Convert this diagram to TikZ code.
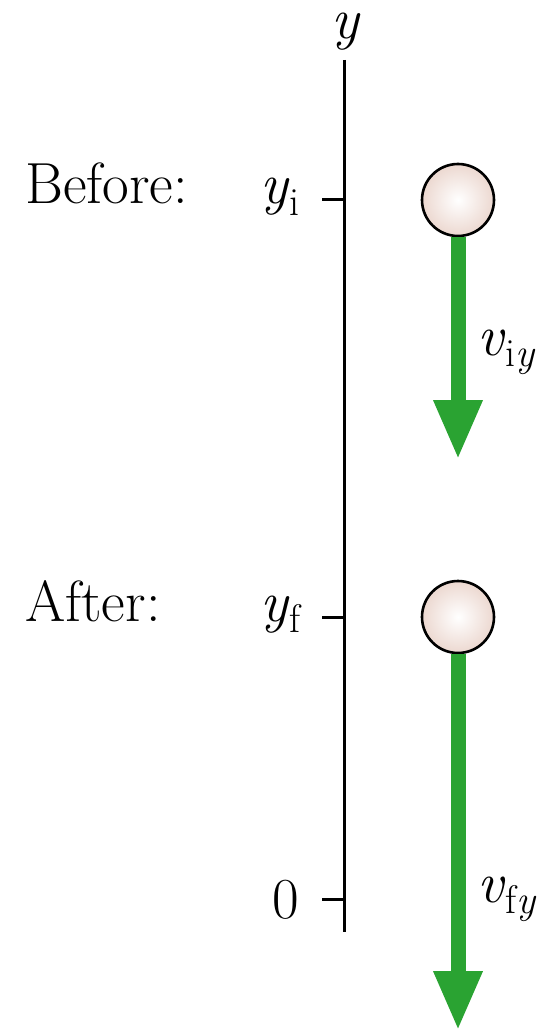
\documentclass[tikz,border=0pt]{standalone}
\usetikzlibrary{arrows.meta}
\definecolor{vgreen}{RGB}{42,163,50}
\definecolor{balledge}{RGB}{236,216,208}
\newcommand{\mysub}[1]{\raisebox{-0.2em}{\fontsize{40}{40}\selectfont #1}}
\tikzset{
  lbl/.style={anchor=base west, inner sep=0pt, font=\fontsize{58}{58}\selectfont},
  axisline/.style={line width=3pt, black},
  ballnode/.style={circle, draw=black, line width=2.6pt, minimum size=72pt, inner sep=0pt, inner color=white, outer color=balledge},
  vel/.style={draw=vgreen, line width=15pt, -{Triangle[width=45pt,length=60pt]}, fill=vgreen},
}
\begin{document}
\begin{tikzpicture}[x=1pt,y=-1pt]
\useasboundingbox (0,0) rectangle (542,1032);
% axis
\coordinate (atop) at (344,60);
\coordinate (abot) at (344,932);
\draw[axisline] (atop) -- (abot);
\coordinate (ti) at (344,200);
\coordinate (tf) at (344,617);
\coordinate (tz) at (344,899);
\coordinate (ti0) at (322,200);
\coordinate (tf0) at (322,617);
\coordinate (tz0) at (322,899);
\draw[axisline] (ti0) -- (ti);
\draw[axisline] (tf0) -- (tf);
\draw[axisline] (tz0) -- (tz);
% labels
\node[lbl, text height=0.45em] (ylab) at (331,39) {\textit{y}};
\node[lbl] (before) at (25,204) {Before:};
\node[lbl] (after) at (25,621) {After:};
\node[lbl] (yi) at (260,204) {\textit{y}\mysub{i}};
\node[lbl] (yf) at (260,621) {\textit{y}\mysub{f}};
\node[lbl] (zero) at (272,918) {0};
\node[lbl] (viy) at (477,355) {\textit{v}\mysub{i\textit{y}}};
\node[lbl] (vfy) at (477,902) {\textit{v}\mysub{f\textit{y}}};
% balls and arrows
\node[ballnode] (b1) at (458,200) {};
\node[ballnode] (b2) at (458,617) {};
\coordinate (e1) at (458,460);
\coordinate (e2) at (458,1031);
\draw[vel] (b1.south) -- (e1);
\draw[vel] (b2.south) -- (e2);
\end{tikzpicture}
\end{document}
